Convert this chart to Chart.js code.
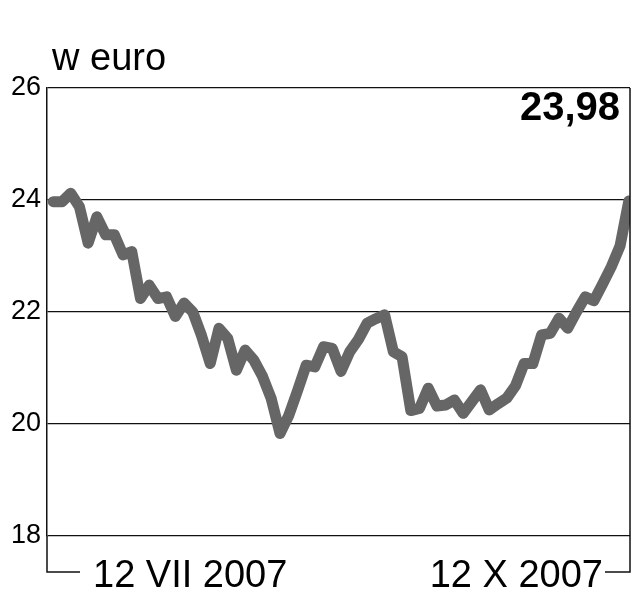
<!DOCTYPE html>
<html>
<head>
<meta charset="utf-8">
<script src="https://cdn.jsdelivr.net/npm/chart.js@4"></script>
<style>
  body { margin: 0; background: #fff; }
  #box { width: 635px; height: 600px; }
</style>
</head>
<body>
<div id="box"><canvas id="kurs"></canvas></div>
<script>
// notowania od 12 VII 2007 do 12 X 2007, kolejne sesje
const wartosci = [
  23.97, 23.97, 24.12, 23.88, 23.23, 23.70, 23.38, 23.38, 23.02, 23.08,
  22.24, 22.48, 22.24, 22.27, 21.92, 22.16, 22.00, 21.58, 21.08, 21.71,
  21.53, 20.96, 21.32, 21.14, 20.85, 20.45, 19.83, 20.15, 20.59, 21.05,
  21.02, 21.38, 21.35, 20.94, 21.29, 21.51, 21.80, 21.88, 21.95, 21.29,
  21.20, 20.24, 20.28, 20.64, 20.32, 20.34, 20.43, 20.19, 20.40, 20.61,
  20.25, 20.36, 20.46, 20.68, 21.08, 21.08, 21.59, 21.62, 21.89, 21.71,
  22.00, 22.27, 22.20, 22.50, 22.81, 23.18, 23.98
];
const sesje = wartosci.map((v, i) => i);
const tickiY = [18, 20, 22, 24, 26];
const etykietyOsi = ['12 VII 2007', '12 X 2007'];
const jednostka = 'w euro';

document.addEventListener('DOMContentLoaded', function(){

  const ostatnia = wartosci[wartosci.length - 1].toFixed(2).replace('.', ',');

  // ramka, nawiasy pod osia i napisy
  const opisy = {
    id: 'opisy',
    afterDraw(chart) {
      const ctx = chart.ctx;
      const a = chart.chartArea;
      ctx.save();
      ctx.strokeStyle = '#111';
      ctx.lineWidth = 1.5;
      ctx.beginPath();
      ctx.moveTo(a.right, a.top);
      ctx.lineTo(a.right, a.bottom + 36);
      ctx.lineTo(a.right - 25, a.bottom + 36);
      ctx.moveTo(a.left, a.bottom);
      ctx.lineTo(a.left, a.bottom + 36);
      ctx.lineTo(a.left + 33, a.bottom + 36);
      ctx.stroke();

      ctx.fillStyle = '#000';
      ctx.textBaseline = 'alphabetic';
      ctx.font = '38px "Liberation Sans"';
      ctx.textAlign = 'left';
      ctx.fillText(jednostka, a.left + 5, a.top - 18);
      ctx.fillText(etykietyOsi[0], a.left + 46, a.bottom + 51);
      ctx.textAlign = 'right';
      ctx.fillText(etykietyOsi[1], a.right - 27, a.bottom + 51);

      ctx.font = 'bold 40px "Liberation Sans"';
      ctx.fillText(ostatnia, a.right - 10, a.top + 32);
      ctx.restore();
    }
  };

  const data = {
    datasets: [{
      label: 'kurs',
      data: sesje.map((s, i) => ({x: s, y: wartosci[i]})),
      borderColor: '#666666',
      borderWidth: 11,
      borderJoinStyle: 'round',
      borderCapStyle: 'round',
      pointRadius: 0,
      tension: 0,
      fill: false
    }]
  };

  const config = {
    type: 'line',
    data: data,
    options: {
      responsive: true,
      maintainAspectRatio: false,
      animation: false,
      layout: {
        padding: {top: 88, right: 5, bottom: 64, left: 0}
      },
      plugins: {
        legend: {display: false},
        tooltip: {enabled: false}
      },
      scales: {
        x: {
          type: 'linear',
          display: false,
          min: -0.72,
          max: 66.14
        },
        y: {
          min: 18,
          max: 26,
          afterFit: function(scale){ scale.width = 47; },
          afterBuildTicks: function(scale){ scale.ticks = tickiY.map(v => ({value: v})); },
          border: {display: true, color: '#111', width: 1.5},
          grid: {color: '#111', lineWidth: 1.3, drawTicks: false},
          ticks: {
            padding: 6,
            color: '#000',
            font: {family: 'Liberation Sans', size: 27}
          }
        }
      }
    },
    plugins: [opisy]
  };

  new Chart(document.getElementById('kurs'), config);
});
</script>
</body>
</html>
